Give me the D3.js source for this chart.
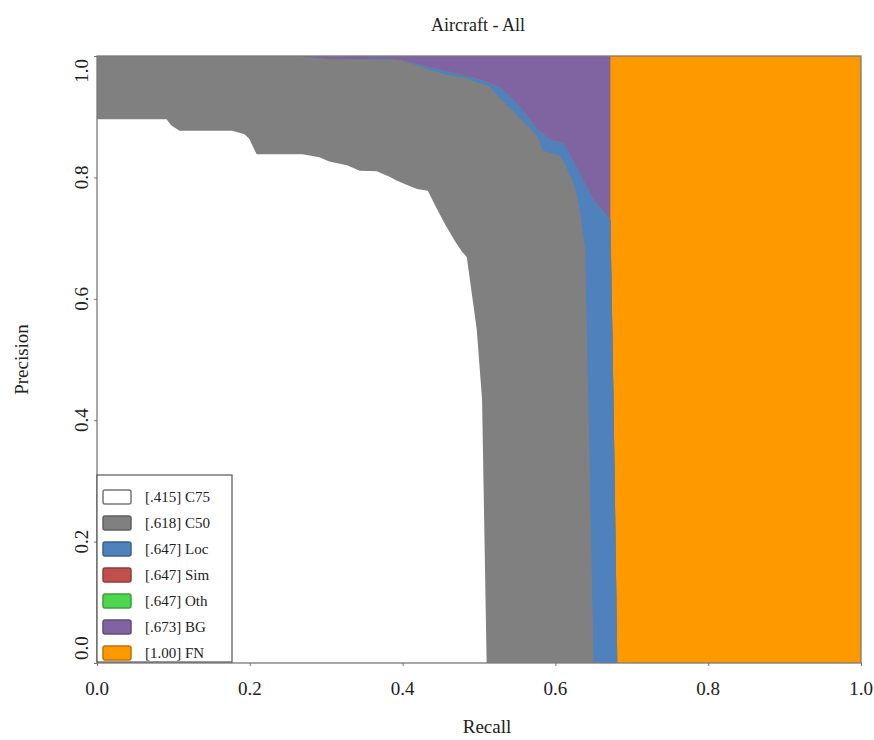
<!DOCTYPE html>
<html>
<head>
<meta charset="utf-8">
<script src="https://cdn.jsdelivr.net/npm/d3@7"></script>
<style>
  html, body { margin: 0; padding: 0; background: #fff; overflow: hidden; }
  svg { display: block; }
  text { font-family: "Liberation Serif", "DejaVu Serif", serif; fill: #222; }
</style>
</head>
<body>
<div class="chart"></div>
<script>
// series: [recall, precision] points
const c75 = [[0, 0.896], [0.091, 0.896], [0.097, 0.886], [0.108, 0.877], [0.177, 0.877], [0.193, 0.871],
  [0.199, 0.864], [0.209, 0.838], [0.269, 0.838], [0.291, 0.833], [0.304, 0.826], [0.327, 0.820],
  [0.344, 0.811], [0.366, 0.810], [0.383, 0.801], [0.392, 0.795], [0.409, 0.786], [0.419, 0.781],
  [0.433, 0.778], [0.445, 0.748], [0.455, 0.724], [0.469, 0.694], [0.478, 0.677], [0.484, 0.669],
  [0.497, 0.550], [0.504, 0.434], [0.510, 0]];
const c50 = [[0, 1], [0.257, 1], [0.30, 0.995], [0.396, 0.994], [0.413, 0.987], [0.436, 0.977],
  [0.458, 0.969], [0.482, 0.964], [0.501, 0.955], [0.514, 0.950], [0.524, 0.935], [0.541, 0.914],
  [0.554, 0.897], [0.567, 0.881], [0.576, 0.869], [0.584, 0.844], [0.597, 0.839], [0.606, 0.836],
  [0.615, 0.815], [0.623, 0.793], [0.629, 0.765], [0.633, 0.737], [0.639, 0.682], [0.643, 0.434],
  [0.650, 0]];
const loc = [[0, 1], [0.257, 1], [0.30, 0.995], [0.383, 0.995], [0.409, 0.990], [0.436, 0.981],
  [0.475, 0.970], [0.510, 0.958], [0.528, 0.948], [0.545, 0.928], [0.560, 0.907], [0.576, 0.880],
  [0.593, 0.862], [0.610, 0.857], [0.623, 0.829], [0.636, 0.796], [0.650, 0.763], [0.672, 0.730],
  [0.676, 0.434], [0.681, 0]];
const sim = loc;
const oth = loc;
const bg = [[0, 1], [0.672, 1], [0.672, 0.730], [0.676, 0.434], [0.681, 0]];
const fn = [[0, 1], [1, 1], [1, 0]];

const labels = ["[.415] C75", "[.618] C50", "[.647] Loc", "[.647] Sim", "[.647] Oth", "[.673] BG", "[1.00] FN"];
const colors = ["#ffffff", "#808080", "#4f81bd", "#c0504d", "#4fd64f", "#8064a2", "#ff9900"];
const seriesList = [c75, c50, loc, sim, oth, bg, fn];
const ticks = [0, 0.2, 0.4, 0.6, 0.8, 1.0];

const width = 874, height = 740;
const margin = {left: 97, right: 13, top: 56, bottom: 77};
const innerWidth = width - margin.left - margin.right;
const innerHeight = height - margin.top - margin.bottom;

let svg = d3.select(".chart")
  .append("svg")
  .attr("width", width)
  .attr("height", height);

let g = svg.append("g")
  .attr("transform", `translate(${margin.left}, ${margin.top})`);

let xScale = d3.scaleLinear().domain([0, 1]).range([0, innerWidth]);
let yScale = d3.scaleLinear().domain([0, 1]).range([innerHeight, 0]);

let area = d3.area()
  .x((d) => xScale(d[0]))
  .y0(innerHeight)
  .y1((d) => yScale(d[1]));

// draw widest first so smaller areas sit on top
for (let i = seriesList.length - 1; i >= 0; i--) {
  g.append("path")
    .datum([[0, 0]].concat(seriesList[i]))
    .attr("d", area)
    .attr("fill", colors[i]);
}

// frame
g.append("rect")
  .attr("width", innerWidth)
  .attr("height", innerHeight)
  .attr("fill", "none")
  .attr("stroke", "#7a7a7a")
  .attr("stroke-width", 1.3);

let fmt = d3.format(".1f");
let xAxis = d3.axisBottom(xScale).tickValues(ticks).tickSize(3).tickFormat("");
let yAxis = d3.axisLeft(yScale).tickValues(ticks).tickSize(3).tickFormat("");

let gx = g.append("g")
  .attr("transform", `translate(0, ${innerHeight})`)
  .call(xAxis);
gx.select(".domain").remove();
gx.selectAll("line").attr("stroke", "#777");

let gy = g.append("g").call(yAxis);
gy.select(".domain").remove();
gy.selectAll("line").attr("stroke", "#777");

// tick labels
g.append("g").selectAll("text")
  .data(ticks)
  .enter()
  .append("text")
  .attr("x", (d) => xScale(d))
  .attr("y", innerHeight + 32)
  .attr("text-anchor", "middle")
  .style("font-size", "19px")
  .text(fmt);

g.append("g").selectAll("text")
  .data(ticks)
  .enter()
  .append("text")
  .attr("transform", (d) => {
    let y = yScale(d) + (d === 0 ? -3 : (d === 1 ? 3 : 0));
    return `translate(-9, ${y}) rotate(-90)`;
  })
  .attr("text-anchor", (d) => d === 0 ? "start" : (d === 1 ? "end" : "middle"))
  .style("font-size", "19px")
  .text(fmt);

// titles
svg.append("text")
  .attr("x", 478).attr("y", 31)
  .attr("text-anchor", "middle")
  .style("font-size", "18px")
  .text("Aircraft - All");

svg.append("text")
  .attr("x", 487).attr("y", 733)
  .attr("text-anchor", "middle")
  .style("font-size", "19px")
  .text("Recall");

svg.append("text")
  .attr("transform", `translate(28, ${margin.top + innerHeight / 2}) rotate(-90)`)
  .attr("text-anchor", "middle")
  .style("font-size", "19px")
  .text("Precision");

// legend
let legend = g.append("g")
  .attr("transform", `translate(0, ${419})`);

legend.append("rect")
  .attr("width", 135)
  .attr("height", 187)
  .attr("fill", "#fff")
  .attr("stroke", "#555")
  .attr("stroke-width", 1.2);

let rows = legend.selectAll(".row")
  .data(labels)
  .enter()
  .append("g")
  .attr("transform", (d, i) => `translate(0, ${15 + i * 26})`);

rows.append("rect")
  .attr("x", 6).attr("y", 0)
  .attr("width", 28).attr("height", 14)
  .attr("rx", 2)
  .attr("fill", (d, i) => colors[i])
  .attr("stroke", (d, i) => i === 0 ? "#777" : d3.color(colors[i]).darker(0.8))
  .attr("stroke-width", 1.5);

rows.append("text")
  .attr("x", 48).attr("y", 12)
  .style("font-size", "15px")
  .text((d) => d);
</script>
</body>
</html>
